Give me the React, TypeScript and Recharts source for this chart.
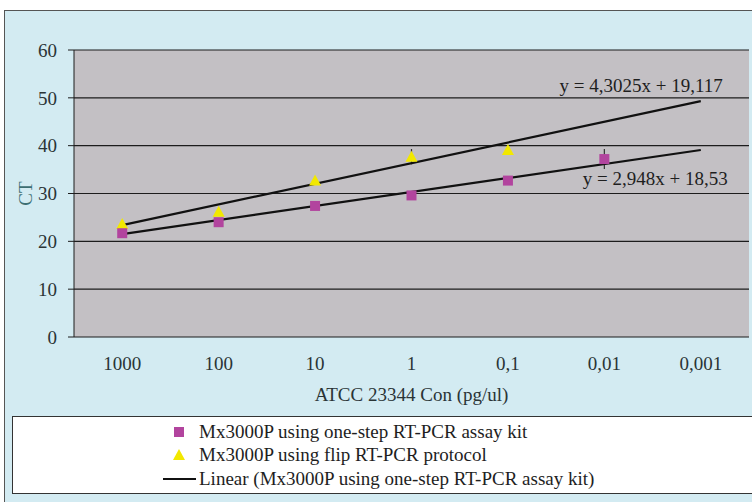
import { ComposedChart, Line, XAxis, YAxis, CartesianGrid, ErrorBar, LabelList } from 'recharts'

const categories = ['1000', '100', '10', '1', '0,1', '0,01', '0,001']
const oneStep = [21.7, 24.0, 27.4, 29.6, 32.7, 37.2, null]
const flip = [23.6, 26.2, 32.7, 37.7, 39.1, null, null]
const oneStepErr = [null, null, null, null, null, 2.1, null]
const flipErr = [null, null, null, 1.6, null, null, null]
// trend lines: end points
const flipTrend = [23.4, null, null, null, null, null, 49.3]
const oneStepTrend = [21.5, null, null, null, null, null, 39.1]
const yTicks = [0, 10, 20, 30, 40, 50, 60]
const edgeTicks = [0, 1, 2, 3, 4, 5, 6, 7]

const legendItems = [
  { kind: 'square', label: 'Mx3000P using one-step RT-PCR assay kit' },
  { kind: 'triangle', label: 'Mx3000P using flip RT-PCR protocol' },
  { kind: 'line', label: 'Linear (Mx3000P using one-step RT-PCR assay kit)' }
]

const data = categories.map((c, i) => ({
  cat: c,
  oneStep: oneStep[i],
  flip: flip[i],
  oneStepErr: oneStepErr[i],
  flipErr: flipErr[i],
  flipTrend: flipTrend[i],
  oneStepTrend: oneStepTrend[i]
}))

const MAGENTA = '#b2449e'
const YELLOW = '#f2e800'
const FONT = 'Liberation Serif'
const TEXT = '#2a3436'

const Square = (props: any) => {
  const { cx, cy, index } = props
  if (cx == null || cy == null) return <g key={`sq-${index}`} />
  return <rect key={`sq-${index}`} x={cx - 5} y={cy - 5} width={10} height={10} fill={MAGENTA} />
}

const Triangle = (props: any) => {
  const { cx, cy, index } = props
  if (cx == null || cy == null) return <g key={`tr-${index}`} />
  return <polygon key={`tr-${index}`} points={`${cx},${cy - 6} ${cx - 6},${cy + 5} ${cx + 6},${cy + 5}`} fill={YELLOW} />
}

const eqLabel = (text: string, dx: number, dy: number) => (props: any) => {
  const { x, y, index } = props
  if (index !== 6 || x == null || y == null) return null
  return (
    <text x={x + dx} y={y + dy} textAnchor="end" fontFamily={FONT} fontSize={19} fill="#1e1e1e">
      {text}
    </text>
  )
}

export default function App() {
  return (
    <div style={{ position: 'absolute', left: 0, top: 0, width: 752, height: 502, background: '#fff', overflow: 'hidden', fontFamily: FONT }}>
      <div
        style={{
          position: 'absolute', left: 4, top: 10, width: 748, height: 492,
          background: '#d3ebf2', borderLeft: '1.5px solid #555', borderTop: '1.5px solid #555', boxSizing: 'border-box'
        }}
      />
      <div style={{ position: 'absolute', left: 0, top: 0 }}>
        <ComposedChart width={752} height={502} data={data} margin={{ top: 50, right: 3, left: 8, bottom: 95 }}>
          <CartesianGrid vertical={false} fill="#c3c0c4" stroke="#1c1c1c" strokeWidth={1.2} />
          <XAxis
            xAxisId="edges"
            type="number"
            domain={[0, 7]}
            ticks={edgeTicks}
            allowDataOverflow
            height={0}
            tickSize={6}
            tickLine={{ stroke: '#1c1c1c' }}
            axisLine={{ stroke: '#1c1c1c' }}
            tick={() => <g />}
          />
          <XAxis
            dataKey="cat"
            type="category"
            scale="band"
            height={70}
            tickLine={false}
            axisLine={false}
            tickSize={0}
            tickMargin={20}
            tick={{ fill: TEXT, fontSize: 19, fontFamily: FONT }}
            interval={0}
            label={{ value: 'ATCC 23344 Con (pg/ul)', position: 'insideBottom', offset: 6, fill: TEXT, fontSize: 19, fontFamily: FONT }}
          />
          <YAxis
            domain={[0, 60]}
            ticks={yTicks}
            width={66}
            tickSize={6}
            tickMargin={11}
            tickLine={{ stroke: '#1c1c1c' }}
            axisLine={{ stroke: '#1c1c1c' }}
            tick={{ fill: TEXT, fontSize: 19, fontFamily: FONT }}
            label={{ value: 'CT', angle: -90, position: 'insideLeft', offset: 17, fill: '#3d6e72', fontSize: 19, fontFamily: FONT, style: { textAnchor: 'middle' } }}
          />
          <Line dataKey="flip" stroke="none" isAnimationActive={false} dot={Triangle} activeDot={false} legendType="none">
            <ErrorBar dataKey="flipErr" width={0} stroke="#333" strokeWidth={1.2} direction="y" />
          </Line>
          <Line dataKey="oneStep" stroke="none" isAnimationActive={false} dot={Square} activeDot={false} legendType="none">
            <ErrorBar dataKey="oneStepErr" width={0} stroke="#333" strokeWidth={1.2} direction="y" />
          </Line>
          <Line dataKey="flipTrend" type="linear" stroke="#111" strokeWidth={2.2} dot={false} activeDot={false} connectNulls isAnimationActive={false}>
            <LabelList dataKey="flipTrend" content={eqLabel('y = 4,3025x + 19,117', 22, -9)} />
          </Line>
          <Line dataKey="oneStepTrend" type="linear" stroke="#111" strokeWidth={2.2} dot={false} activeDot={false} connectNulls isAnimationActive={false}>
            <LabelList dataKey="oneStepTrend" content={eqLabel('y = 2,948x + 18,53', 27, 35)} />
          </Line>
        </ComposedChart>
      </div>
      <div
        style={{
          position: 'absolute', left: 12, top: 416, width: 740, height: 78, boxSizing: 'border-box',
          background: '#fff', border: '1.5px solid #333', borderRight: 'none', paddingTop: 3,
          fontFamily: FONT, fontSize: 19, color: '#1e1e1e'
        }}
      >
        {legendItems.map(item => (
          <div key={item.label} style={{ display: 'flex', alignItems: 'center', height: 23.5, whiteSpace: 'nowrap' }}>
            <svg width={186} height={20} style={{ flex: 'none' }}>
              {item.kind === 'square' && <rect x={161} y={5} width={10} height={10} fill={MAGENTA} />}
              {item.kind === 'triangle' && <polygon points="166,4 160,15 172,15" fill={YELLOW} />}
              {item.kind === 'line' && <line x1={150} x2={183} y1={10} y2={10} stroke="#111" strokeWidth={2.2} />}
            </svg>
            <span>{item.label}</span>
          </div>
        ))}
      </div>
    </div>
  )
}
